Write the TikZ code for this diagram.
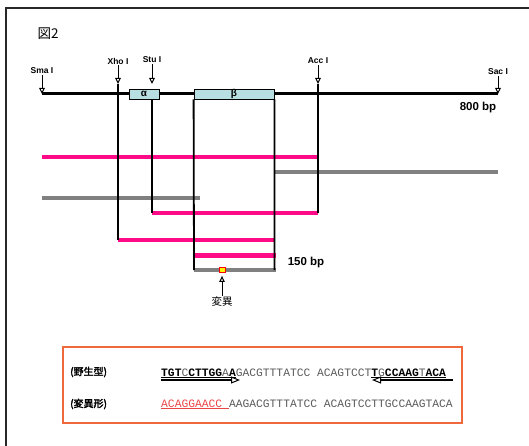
\documentclass[tikz,border=0pt]{standalone}
\usepackage{fontspec}
\setmainfont{Liberation Sans}
\newfontfamily\cjk{Noto Sans CJK JP}[AutoFakeBold=2.5]
\newfontfamily\seqfont{Liberation Mono}
\usetikzlibrary{arrows.meta}
\definecolor{barpink}{RGB}{255,10,135}
\definecolor{bargray}{RGB}{128,128,128}
\definecolor{genefill}{RGB}{183,222,224}
\definecolor{boxorange}{RGB}{240,105,60}
\definecolor{seqred}{RGB}{235,70,70}
\definecolor{seqgray}{RGB}{90,90,90}
\definecolor{framegray}{RGB}{40,40,40}
\tikzset{
  site/.style={font=\bfseries\fontsize{8.5}{9}\selectfont, inner sep=1pt},
  sitearrow/.style={line width=1pt, -{Triangle[open,length=6pt,width=5.5pt]}},
  cutline/.style={line width=1.8pt},
  bar/.style={line width=4.5pt, line cap=butt},
  pinkbar/.style={bar, draw=barpink},
  graybar/.style={bar, draw=bargray},
  genebox/.style={draw, line width=0.8pt, fill=genefill, minimum height=10pt, inner sep=0pt,
    font=\bfseries\fontsize{10}{10}\selectfont},
  bplabel/.style={font=\bfseries\fontsize{11.5}{12}\selectfont},
  seqrow/.style={font=\seqfont\fontsize{11.3}{12}\selectfont, anchor=base west, inner sep=0pt},
  rowlabel/.style={font=\cjk\bfseries\fontsize{10}{10}\selectfont, anchor=west, inner sep=0pt},
  primer/.style={line width=2.2pt, -{Triangle[open,length=9pt,width=7pt,line width=1pt]}},
}
\begin{document}
\begin{tikzpicture}[x=1pt,y=-1pt]
\useasboundingbox (0,0) rectangle (529,446);
% outer frame
\draw[framegray, line width=1.8pt] (6,446) -- (6,8) -- (529,8);
\node[font=\cjk\fontsize{13.5}{14}\selectfont] (title) at (48,34) {図2};

% main line and genes
\draw[line width=3pt] (42,94) -- (498,94);
\node[genebox, minimum width=30pt] (alpha) at (144,94) {α};
\node[genebox, minimum width=80pt] (beta) at (234,94) {β};

% restriction sites
\node[site] (sma) at (42,71) {Sma I};
\node[site] (xho) at (118,61) {Xho I};
\node[site] (stu) at (152,60) {Stu I};
\node[site] (acc) at (318,61) {Acc I};
\node[site] (sac) at (498,72) {Sac I};
\coordinate (smatip) at (42,94);
\coordinate (xhotip) at (118,84);
\coordinate (stutip) at (152,84);
\coordinate (acctip) at (318,84);
\coordinate (sactip) at (498,94);
\draw[sitearrow] (sma.south) -- (smatip);
\draw[sitearrow] (xho.south) -- (xhotip);
\draw[sitearrow] (stu.south) -- (stutip);
\draw[sitearrow] (acc.south) -- (acctip);
\draw[sitearrow] (sac.south) -- (sactip);

\node[bplabel] (bp800) at (478,108) {800 bp};

% fragments
\draw[pinkbar] (42,157) -- (318,157);
\draw[graybar] (274,172) -- (498,172);
\draw[graybar] (42,198) -- (200,198);
\draw[pinkbar] (152,213) -- (318,213);
\draw[pinkbar] (118,240) -- (275,240);
\draw[pinkbar] (194,255.5) -- (276,255.5);
\draw[graybar] (194,270) -- (276,270);

% vertical cut lines
\coordinate (xhoend) at (118,240);
\coordinate (stuend) at (152,213);
\coordinate (accend) at (318,213);
\coordinate (b1end) at (194,270);
\coordinate (b2end) at (274.5,270);
\draw[cutline] (xhotip) -- (xhoend);
\draw[cutline] (stutip |- alpha.south) -- (stuend);
\draw[cutline] (acctip) -- (accend);
\draw[cutline] (beta.south west) -- (b1end);
\draw[cutline] (beta.south east) -- (b2end);

\node[bplabel] (bp150) at (306,263) {150 bp};

% mutation
\node[draw=red, fill=yellow, line width=0.8pt, minimum width=6pt, minimum height=5pt, inner sep=0pt] (mut) at (222,270) {};
\node[font=\cjk\fontsize{10.5}{11}\selectfont, inner sep=1pt] (henilabel) at (222,302) {変異};
\draw[sitearrow, shorten >=3pt] (henilabel.north) -- (mut.south);

% sequence box
\draw[boxorange, line width=1.3pt] (63,347) rectangle (462,423);
\node[rowlabel] (wt) at (70,372) {(野生型)};
\node[rowlabel] (mt) at (70,404) {(変異形)};
\node[seqrow] (seq1) at (161,376) {\underline{\textbf{TGT}\textcolor{seqgray}{C}\textbf{CTTGG}\textcolor{seqgray}{A}\textbf{A}}\textcolor{seqgray}{GACGTTTATCC ACAGTCCT}\underline{\textbf{T}\textcolor{seqgray}{G}\textbf{CCAAG}\textcolor{seqgray}{T}\textbf{ACA}}};
\node[seqrow] (seq2) at (161,407) {\textcolor{seqred}{\underline{ACAGGAACC }}\textcolor{seqgray}{AAGACGTTTATCC ACAGTCCTTGCCAAGTACA}};
\coordinate (fwa) at (161,380);
\coordinate (fwb) at (240,380);
\coordinate (rva) at (453,380);
\coordinate (rvb) at (372,380);
\draw[primer] (fwa) -- (fwb);
\draw[primer] (rva) -- (rvb);
\end{tikzpicture}
\end{document}
